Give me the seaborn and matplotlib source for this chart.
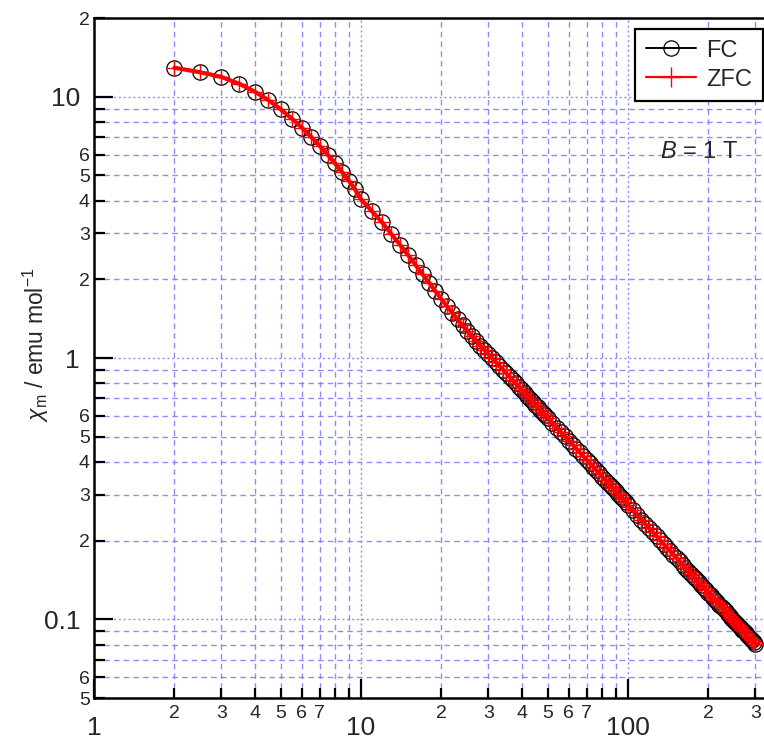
import matplotlib
matplotlib.use("Agg")
import matplotlib.pyplot as plt
from matplotlib.ticker import FixedLocator, FixedFormatter
from matplotlib.lines import Line2D
import seaborn as sns
import pandas as pd

# ---------------- data ----------------
temperature = [
    2, 2.5, 3, 3.5, 4, 4.5, 5, 5.5, 6, 6.5, 7, 7.5, 8, 8.5, 9, 9.5, 10,
    11, 12, 13, 14, 15, 16, 17, 18, 19, 20, 21, 22, 23, 24, 25, 26, 27, 28, 29, 30,
    31, 32, 33, 34, 35, 36, 37, 38, 39, 40, 41, 42, 43, 44, 45, 46, 47, 48, 49, 50,
    52, 54, 56, 58, 60, 62, 64, 66, 68, 70, 72, 74, 76, 78, 80, 82, 84, 86, 88, 90,
    92, 94, 96, 98, 100,
    104, 108, 112, 116, 120, 124, 128, 132, 136, 140, 144, 148, 152, 156, 160,
    164, 168, 172, 176, 180, 184, 188, 192, 196, 200, 204, 208, 212, 216, 220,
    224, 228, 232, 236, 240, 244, 248, 252, 256, 260, 264, 268, 272, 276, 280,
    284, 288, 292, 296, 300,
]
chi_fc = [
    12.9, 12.4, 11.9, 11.2, 10.45, 9.7, 8.95, 8.25, 7.62, 7.02, 6.48, 6.00, 5.55, 5.14, 4.77, 4.42, 4.05,
    3.64, 3.30, 2.98, 2.71, 2.48, 2.27, 2.09, 1.94, 1.80, 1.68, 1.575, 1.485, 1.405, 1.335, 1.27, 1.21, 1.16, 1.115, 1.075, 1.035,
    0.999, 0.964, 0.933, 0.902, 0.874, 0.847, 0.822, 0.799, 0.776, 0.755, 0.734, 0.715, 0.697, 0.680, 0.663, 0.647, 0.632, 0.618, 0.604, 0.590,
    0.565, 0.542, 0.521, 0.501, 0.483, 0.466, 0.450, 0.435, 0.421, 0.408, 0.395, 0.3835, 0.3724, 0.3619, 0.3520, 0.3425, 0.3336, 0.3251, 0.3169, 0.3092,
    0.3018, 0.2948, 0.2881, 0.2815, 0.274,
    0.2614, 0.2506, 0.2407, 0.2315, 0.2230, 0.2150, 0.2076, 0.2006, 0.1941, 0.1879, 0.1821, 0.1767, 0.1715, 0.1666, 0.1620,
    0.1577, 0.1535, 0.1495, 0.1458, 0.1422, 0.1387, 0.1355, 0.1323, 0.1294, 0.1265, 0.1237, 0.1211, 0.1186, 0.1161, 0.1138,
    0.1115, 0.1094, 0.1073, 0.1052, 0.1033, 0.1014, 0.0996, 0.0979, 0.0962, 0.0945, 0.0929, 0.0914, 0.0899, 0.0885, 0.0871,
    0.0857, 0.0844, 0.0831, 0.0819, 0.0806,
]
chi_zfc = chi_fc  # ZFC curve coincides with FC within drawing accuracy

series_labels = ["FC", "ZFC"]
field_text = r"$B$ = 1 T"
ylabel_text = r"$\chi_\mathrm{m}$ / emu mol$^{-1}$"

x_major = [1, 10, 100]
x_major_labels = ["1", "10", "100"]
x_minor = [2, 3, 4, 5, 6, 7, 8, 9, 20, 30, 40, 50, 60, 70, 80, 90, 200, 300]
x_minor_labels = ["2", "3", "4", "5", "6", "7", "", "", "2", "3", "4", "5", "6", "7", "", "", "2", "3"]
y_major = [0.1, 1, 10]
y_major_labels = ["0.1", "1", "10"]
y_minor = [0.05, 0.06, 0.07, 0.08, 0.09, 0.2, 0.3, 0.4, 0.5, 0.6, 0.7, 0.8, 0.9,
           2, 3, 4, 5, 6, 7, 8, 9, 20]
y_minor_labels = ["5", "6", "", "", "", "2", "3", "4", "5", "6", "", "", "",
                  "2", "3", "4", "5", "6", "", "", "", "2"]

# ---------------- style ----------------
sns.set_style("white")
plt.rcParams["font.family"] = ["Liberation Sans", "DejaVu Sans"]
plt.rcParams["mathtext.fontset"] = "custom"
plt.rcParams["mathtext.rm"] = "Liberation Sans"
plt.rcParams["mathtext.it"] = "Liberation Sans:italic"

df = pd.DataFrame({"T": temperature, "FC": chi_fc, "ZFC": chi_zfc})

fig = plt.figure(figsize=(7.64, 7.44), dpi=100)
ax = fig.add_axes([94 / 764, 1 - 698 / 744, 1 - 94 / 764, (698 - 18) / 744])

ax.set_xscale("log")
ax.set_yscale("log")
ax.set_xlim(1, 323)
ax.set_ylim(0.05, 20)

# grid
grid_col = "#7878ff"
ax.set_axisbelow(True)
for xv in x_minor:
    ax.axvline(xv, color=grid_col, lw=1.0, ls=(0, (4, 3)), alpha=0.85, zorder=0)
for xv in x_major[1:]:
    ax.axvline(xv, color=grid_col, lw=1.0, ls=(0, (1.5, 2)), alpha=0.85, zorder=0)
for yv in y_minor:
    ax.axhline(yv, color=grid_col, lw=1.0, ls=(0, (4, 3)), alpha=0.85, zorder=0)
for yv in y_major:
    ax.axhline(yv, color=grid_col, lw=1.0, ls=(0, (1.5, 2)), alpha=0.85, zorder=0)

sns.lineplot(data=df, x="T", y="FC", ax=ax, sort=False, estimator=None,
             color="black", lw=1.2, marker="o", markersize=11,
             markerfacecolor="none", markeredgecolor="black", markeredgewidth=0.9,
             zorder=3)
sns.lineplot(data=df, x="T", y="ZFC", ax=ax, sort=False, estimator=None,
             color="red", lw=3.0, marker="+", markersize=11,
             markeredgecolor="red", markeredgewidth=1.0, zorder=4)

# ticks
ax.xaxis.set_major_locator(FixedLocator(x_major))
ax.xaxis.set_major_formatter(FixedFormatter(x_major_labels))
ax.xaxis.set_minor_locator(FixedLocator(x_minor))
ax.xaxis.set_minor_formatter(FixedFormatter(x_minor_labels))
ax.yaxis.set_major_locator(FixedLocator(y_major))
ax.yaxis.set_major_formatter(FixedFormatter(y_major_labels))
ax.yaxis.set_minor_locator(FixedLocator(y_minor))
ax.yaxis.set_minor_formatter(FixedFormatter(y_minor_labels))

ax.tick_params(axis="both", which="both", direction="in", color="black",
               bottom=True, left=True, top=False, right=False,
               labelbottom=True, labelleft=True)
ax.tick_params(axis="x", which="major", length=13.5, width=1.6, labelsize=19, pad=13)
ax.tick_params(axis="x", which="minor", length=7.5, width=1.6, labelsize=14, pad=5)
ax.tick_params(axis="y", which="major", length=13.5, width=1.6, labelsize=19, pad=10)
ax.tick_params(axis="y", which="minor", length=8, width=1.6, labelsize=14, pad=3)

for side in ["left", "bottom", "top"]:
    ax.spines[side].set_visible(True)
    ax.spines[side].set_color("black")
    ax.spines[side].set_linewidth(1.8)
ax.spines["right"].set_visible(False)

ax.set_xlabel("")
ax.set_ylabel(ylabel_text, fontsize=16.5)
ax.yaxis.set_label_coords(-0.064, 0.52)

# legend
handles = [
    Line2D([], [], color="black", lw=1.4, marker="o", markersize=11,
           markerfacecolor="none", markeredgecolor="black", markeredgewidth=0.9),
    Line2D([], [], color="red", lw=1.6, marker="+", markersize=14,
           markeredgecolor="red", markeredgewidth=1.0),
]
leg = ax.legend(handles, series_labels, loc="upper right",
                bbox_to_anchor=(0.998, 0.984), borderaxespad=0, fontsize=17,
                frameon=True, fancybox=False, edgecolor="black", framealpha=1,
                handlelength=2.1, handletextpad=0.45, borderpad=0.45,
                labelspacing=0.3)
leg.get_frame().set_linewidth(1.6)
leg.set_zorder(10)

ax.text(0.845, 0.803, field_text, transform=ax.transAxes, fontsize=17,
        ha="left", va="center")

fig.savefig("out.png", dpi=100)
